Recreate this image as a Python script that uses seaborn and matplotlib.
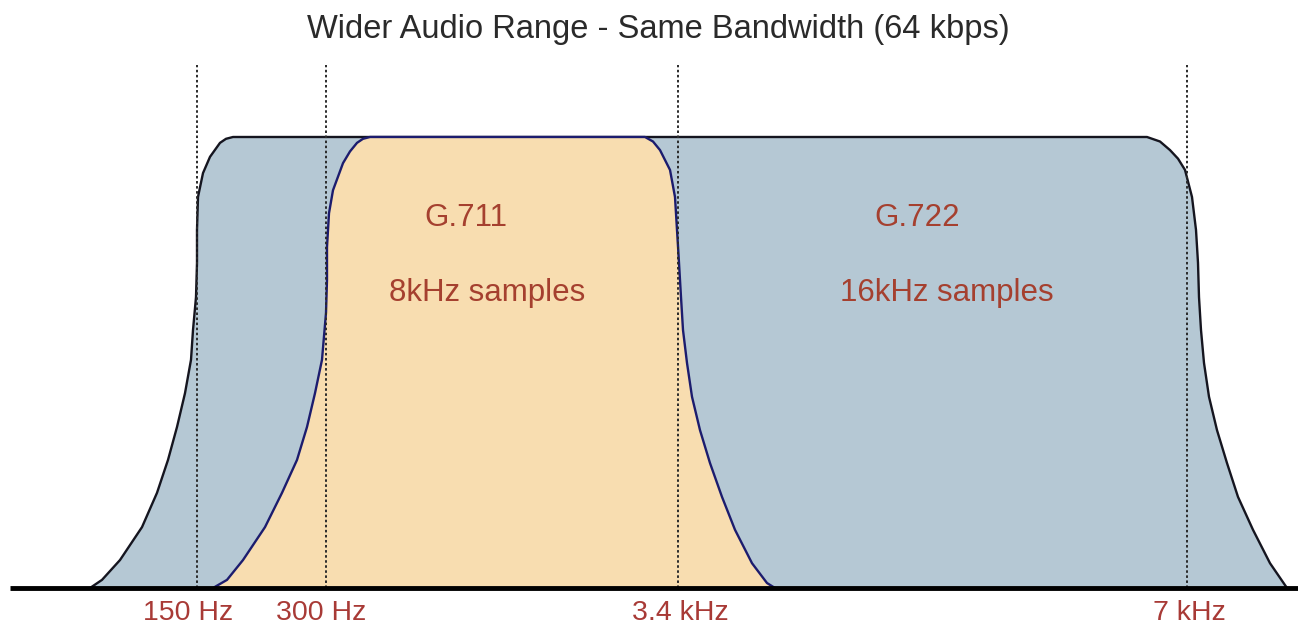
import matplotlib
matplotlib.use("Agg")
import matplotlib.pyplot as plt
import seaborn as sns
import pandas as pd

# Band outlines: position along the schematic axis and level (0 = baseline, 1 = top)
g722_pos = [90, 102, 120, 142, 157, 168, 177, 185, 191, 193, 196, 197, 197, 198, 203, 210, 220, 226, 233,
            1147, 1160, 1170, 1178, 1185, 1192, 1196, 1198, 1199, 1201, 1204, 1209, 1217, 1227, 1238,
            1253, 1270, 1287]
g722_lvl = [0.0, 0.018, 0.062, 0.135, 0.211, 0.284, 0.357, 0.432, 0.506, 0.572, 0.645, 0.721, 0.794,
            0.867, 0.920, 0.956, 0.987, 0.996, 1.0,
            1.0, 0.99, 0.971, 0.952, 0.927, 0.867, 0.794, 0.721, 0.645, 0.572, 0.499, 0.424, 0.350,
            0.277, 0.202, 0.129, 0.055, 0.0]

g711_pos = [213, 227, 243, 265, 282, 297, 307, 315, 322, 326, 327, 327, 329, 333, 343, 350, 357, 363, 370,
            645, 653, 660, 670, 675, 677, 679, 681, 683, 687, 692, 700, 710, 722, 735, 752, 767, 775]
g711_lvl = [0.0, 0.018, 0.062, 0.135, 0.211, 0.284, 0.357, 0.432, 0.506, 0.610, 0.683, 0.756, 0.831,
            0.882, 0.942, 0.968, 0.987, 0.996, 1.0,
            1.0, 0.99, 0.971, 0.927, 0.867, 0.794, 0.721, 0.645, 0.572, 0.499, 0.424, 0.350, 0.277,
            0.202, 0.129, 0.055, 0.011, 0.0]

marker_pos = [197, 326, 678, 1187]
marker_labels = ["150 Hz", "300 Hz", "3.4 kHz", "7 kHz"]
label_pos = [188, 321, 680, 1189]

band_names = ["G.711", "G.722"]
band_notes = ["8kHz samples", "16kHz samples"]
band_text_pos = [466, 917]
note_text_pos = [487, 947]

TITLE = "Wider Audio Range - Same Bandwidth (64 kbps)"

sns.set_theme(style="white")
plt.rcParams["font.family"] = ["Liberation Sans", "DejaVu Sans"]

fig = plt.figure(figsize=(12.98, 6.28), dpi=100)
ax = fig.add_axes([0, 0, 1, 1])

blue_df = pd.DataFrame({"pos": g722_pos, "lvl": g722_lvl})
orange_df = pd.DataFrame({"pos": g711_pos, "lvl": g711_lvl})

ax.fill(blue_df["pos"], blue_df["lvl"], color="#b5c8d4", zorder=1, lw=0)
sns.lineplot(data=blue_df, x="pos", y="lvl", sort=False, estimator=None, color="#15151f",
             lw=1.7, ax=ax, zorder=2, solid_joinstyle="round")
ax.fill(orange_df["pos"], orange_df["lvl"], color="#f8ddb0", zorder=3, lw=0)
sns.lineplot(data=orange_df, x="pos", y="lvl", sort=False, estimator=None, color="#1c1c6e",
             lw=1.7, ax=ax, zorder=4, solid_joinstyle="round")

ax.vlines(marker_pos, 0, 1.16, colors="#2a2a2a", linestyles=(0, (1.3, 1.3)), lw=1.4, zorder=5)
ax.hlines(0, 10, 1298, colors="black", lw=3.5, zorder=6)

red = "#a83a36"
for x, lab in zip(label_pos, marker_labels):
    ax.text(x, -0.071, lab, ha="center", va="baseline", fontsize=20.5, color=red)
for x, name in zip(band_text_pos, band_names):
    ax.text(x, 0.8027, name, ha="center", va="baseline", fontsize=22.5, color="#a5402f")
for x, note in zip(note_text_pos, band_notes):
    ax.text(x, 0.636, note, ha="center", va="baseline", fontsize=22.5, color="#a5402f")

ax.text(658, 1.2195, TITLE, ha="center", va="baseline", fontsize=23.5, color="#2a2a2a")

ax.set_xlim(0, 1298)
ax.set_ylim(-40 / 451, 588 / 451)
ax.axis("off")

fig.savefig("out.png", dpi=100)
